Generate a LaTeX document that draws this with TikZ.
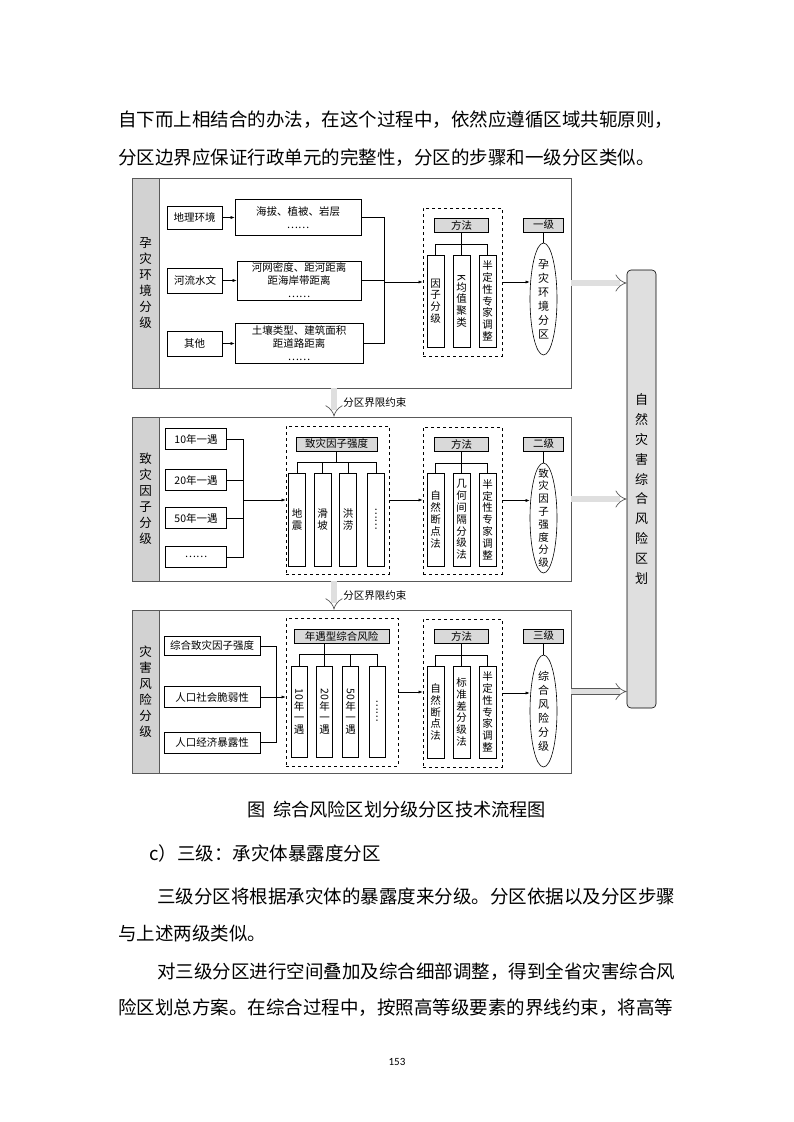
\documentclass[tikz,border=0pt]{standalone}
\usepackage{fontspec}
\setmainfont{Noto Sans CJK SC}
\newfontfamily\pagefont{Carlito}
\XeTeXlinebreaklocale "zh"
\XeTeXlinebreakskip=0pt plus 2pt
\usetikzlibrary{positioning}
\usetikzlibrary{arrows.meta}
\usetikzlibrary{graphs}
\usetikzlibrary{shapes.geometric}

\newcommand{\jline}[2]{\makebox[#1][s]{#2}}

\tikzset{
  panel/.style={draw=gray!70!black, line width=0.8pt, minimum width=439},
  strip/.style={draw=gray!70!black, fill=gray!35, line width=0.8pt, inner sep=0pt, minimum width=27, anchor=north west, align=center, font=\fontsize{12.5}{16}\selectfont},
  box/.style={draw, line width=0.6pt, inner sep=0pt, align=center, font=\fontsize{10.5}{13}\selectfont},
  tagbox/.style={box, fill=gray!30, minimum height=14},
  col/.style={box, minimum width=17, minimum height=92, font=\fontsize{10.5}{11.8}\selectfont},
  methods/.style={draw, dashed, line width=0.8pt, minimum width=79, minimum height=148},
  zone/.style={draw, ellipse, line width=0.6pt, minimum width=27, inner sep=0pt},
  zonetext/.style={align=center, inner sep=0pt, font=\fontsize{11}{14}\selectfont},
  flow/.style={->, line width=0.5pt},
  link/.style={line width=0.5pt},
  fat/.style={draw=gray!70!black, line width=0.7pt, double=gray!25, double distance=5.5pt, -{Implies}},
  body/.style={anchor=west, inner sep=0pt, font=\fontsize{18.5}{22}\selectfont},
}

\begin{document}
\begin{tikzpicture}[x=1pt, y=-1pt, >={Latex[length=4pt,width=3pt]}]
\useasboundingbox (0,0) rectangle (793,1122);

% text above
\node (t1) [body] at (118,120) {自下而上相结合的办法，在这个过程中，依然应遵循区域共轭原则，};
\node (t2) [body] at (118,158) {分区边界应保证行政单元的完整性，分区的步骤和一级分区类似。};

% three panels
\node (p1) [panel, minimum height=210] at (351.5,283) {};
\node (p2) [panel, minimum height=164] at (351.5,499) {};
\node (p3) [panel, minimum height=163] at (351.5,691.5) {};
\node (s1) [strip, minimum height=210] at (p1.north west) {孕\\灾\\环\\境\\分\\级};
\node (s2) [strip, minimum height=164] at (p2.north west) {致\\灾\\因\\子\\分\\级};
\node (s3) [strip, minimum height=163] at (p3.north west) {灾\\害\\风\\险\\分\\级};

% big box on the right
\node (big) [box, rounded corners=4pt, fill=gray!25, minimum width=29, minimum height=438, font=\fontsize{13}{19.8}\selectfont] at (641.5,489) {自\\然\\灾\\害\\综\\合\\风\\险\\区\\划};

% panel 1
\node (geo) [box, minimum width=55, minimum height=23] at (194.5,217.5) {地理环境};
\node (riv) [box, minimum width=55, minimum height=25] at (195,280.5) {河流水文};
\node (oth) [box, minimum width=55, minimum height=25] at (194.5,343.5) {其他};
\node (d1) [box, minimum width=126, minimum height=36] at (298,217.5) {海拔、植被、岩层\\……};
\node (d2) [box, minimum width=124, minimum height=39] at (299,280.5) {河网密度、距河距离\\距海岸带距离\\……};
\node (d3) [box, minimum width=128, minimum height=40] at (299,343.5) {土壤类型、建筑面积\\距道路距离\\……};
\graph[edges={line width=0.5pt}] { (geo) -> (d1), (riv) -> (d2), (oth) -> (d3) };
\coordinate (j1) at (384,282);
\foreach \n in {d1,d2,d3} \draw[link] (\n.east) -| (j1);

\node (m1) [methods] at (462.5,282) {};
\node (f1) [tagbox, minimum width=54] at (461.5,225) {方法};
\node (c11) [col] at (435.5,301) {因\\子\\分\\级};
\node (c12) [col] at (461.5,301) {\rotatebox{-90}{K}\\均\\值\\聚\\类};
\node (c13) [col] at (487.5,301) {半\\定\\性\\专\\家\\调\\整};
\coordinate (b1) at (461.5,244);
\draw[link] (f1) -- (b1);
\foreach \n in {c11,c12,c13} \draw[link] (\n.north) |- (b1);
\draw[flow] (j1) -- (m1.west);

\node (l1) [tagbox, minimum width=40] at (543.5,225) {一级};
\node (e1) [zone, minimum height=112] at (543.5,299) {};
\node (e1t) [zonetext] at (e1) {孕\\灾\\环\\境\\分\\区};
\draw[link] (l1) -- (e1);
\draw[flow] (m1.east) -- (m1.east -| e1.west);
\draw[fat] (p1.east) -- (p1.east -| big.west);

% panel 2
\node (r10) [box, minimum width=61, minimum height=21] at (196,439) {10年一遇};
\node (r20) [box, minimum width=61, minimum height=21] at (196,480) {20年一遇};
\node (r50) [box, minimum width=61, minimum height=21] at (196,518) {50年一遇};
\node (rx) [box, minimum width=61, minimum height=21] at (196,557) {……};
\coordinate (j2) at (243,500);
\foreach \n in {r10,r20,r50,rx} \draw[link] (\n.east) -| (j2);

\node (m2) [methods, minimum width=103] at (337.5,500) {};
\node (f2) [tagbox, minimum width=81] at (336.5,444) {致灾因子强度};
\node (c21) [col, minimum height=93] at (297,519.5) {地\\震};
\node (c22) [col, minimum height=93] at (322.5,519.5) {滑\\坡};
\node (c23) [col, minimum height=93] at (348,519.5) {洪\\涝};
\node (c24) [col, minimum height=93] at (376,519.5) {\rotatebox{90}{……}};
\coordinate (b2) at (336.5,462);
\draw[link] (f2) -- (b2);
\foreach \n in {c21,c22,c23,c24} \draw[link] (\n.north) |- (b2);
\draw[flow] (j2) -- (m2.west);

\node (m3) [methods, minimum height=147] at (462.5,500.5) {};
\node (f3) [tagbox, minimum width=54] at (461.5,444) {方法};
\node (c31) [col, minimum height=93] at (435.5,519.5) {自\\然\\断\\点\\法};
\node (c32) [col, minimum height=93] at (461.5,519.5) {几\\何\\间\\隔\\分\\级\\法};
\node (c33) [col, minimum height=93] at (487.5,519.5) {半\\定\\性\\专\\家\\调\\整};
\coordinate (b3) at (461.5,463);
\draw[link] (f3) -- (b3);
\foreach \n in {c31,c32,c33} \draw[link] (\n.north) |- (b3);
\draw[flow] (m2.east) -- (m2.east -| m3.west);

\node (l2) [tagbox, minimum width=40] at (543.5,444) {二级};
\node (e2) [zone, minimum height=110] at (543.5,518) {};
\node (e2t) [zonetext, font=\fontsize{10.5}{12.8}\selectfont] at (e2) {致\\灾\\因\\子\\强\\度\\分\\级};
\draw[link] (l2) -- (e2);
\draw[flow] (m3.east) -- (m3.east -| e2.west);
\draw[fat] (p2.east) -- (p2.east -| big.west);

% panel 3
\node (h1) [box, minimum width=96, minimum height=19] at (212,646) {综合致灾因子强度};
\node (h2) [box, minimum width=96, minimum height=21] at (212,697) {人口社会脆弱性};
\node (h3) [box, minimum width=96, minimum height=21] at (212,742.5) {人口经济暴露性};
\coordinate (j3) at (276,697);
\foreach \n in {h1,h2,h3} \draw[link] (\n.east) -| (j3);

\node (m4) [methods, minimum width=112] at (342,692) {};
\node (f4) [tagbox, minimum width=95] at (341.5,636.5) {年遇型综合风险};
\node (c41) [col, minimum width=16, minimum height=91] at (299,711.5) {\rotatebox{-90}{10}\\年\\一\\遇};
\node (c42) [col, minimum width=16, minimum height=91] at (324.5,711.5) {\rotatebox{-90}{20}\\年\\一\\遇};
\node (c43) [col, minimum width=16, minimum height=91] at (350.5,711.5) {\rotatebox{-90}{50}\\年\\一\\遇};
\node (c44) [col, minimum width=16, minimum height=91] at (377,711.5) {\rotatebox{90}{……}};
\coordinate (b4) at (324.5,654);
\draw[link] (f4.south -| b4) -- (b4);
\foreach \n in {c41,c42,c43,c44} \draw[link] (\n.north) |- (b4);
\draw[flow] (j3) -- (j3 -| m4.west);

\node (m5) [methods] at (462.5,693) {};
\node (f5) [tagbox, minimum width=54] at (461.5,636) {方法};
\node (c51) [col] at (435.5,712) {自\\然\\断\\点\\法};
\node (c52) [col] at (461.5,712) {标\\准\\差\\分\\级\\法};
\node (c53) [col] at (487.5,712) {半\\定\\性\\专\\家\\调\\整};
\coordinate (b5) at (461.5,655);
\draw[link] (f5) -- (b5);
\foreach \n in {c51,c52,c53} \draw[link] (\n.north) |- (b5);
\draw[flow] (m4.east) -- (m4.east -| m5.west);

\node (l3) [tagbox, minimum width=40] at (543.5,636) {三级};
\node (e3) [zone, minimum height=112] at (543.5,711) {};
\node (e3t) [zonetext] at (e3) {综\\合\\风\\险\\分\\级};
\draw[link] (l3) -- (e3);
\draw[flow] (m5.east) -- (m5.east -| e3.west);
\draw[fat] (p3.east) -- (p3.east -| big.west);

% constraints between panels
\draw[fat] ([xshift=-17.5]p1.south) -- ([xshift=-17.5]p2.north)
  node (k1) [midway, right=9pt, inner sep=0pt, font=\fontsize{10.5}{13}\selectfont] {分区界限约束};
\draw[fat] ([xshift=-17.5]p2.south) -- ([xshift=-17.5]p3.north)
  node (k2) [midway, right=9pt, inner sep=0pt, font=\fontsize{10.5}{13}\selectfont] {分区界限约束};

% text below
\node (cap) [font=\fontsize{18.2}{22}\selectfont] at (397,810) {图\hspace{7pt}综合风险区划分级分区技术流程图};
\node (t3) [body] at (149,853) {c）三级：承灾体暴露度分区};
\node (t4) [body] at (157,896) {三级分区将根据承灾体的暴露度来分级。分区依据以及分区步骤};
\node (t5) [body] at (118,933) {与上述两级类似。};
\node (t6) [body] at (157,972) {\jline{520pt}{对三级分区进行空间叠加及综合细部调整，得到全省灾害综合风}};
\node (t7) [body] at (118,1008) {\jline{559pt}{险区划总方案。在综合过程中，按照高等级要素的界线约束，将高等}};
\node (pg) [font=\pagefont\fontsize{11}{13}\selectfont] at (397,1062) {153};
\end{tikzpicture}
\end{document}
